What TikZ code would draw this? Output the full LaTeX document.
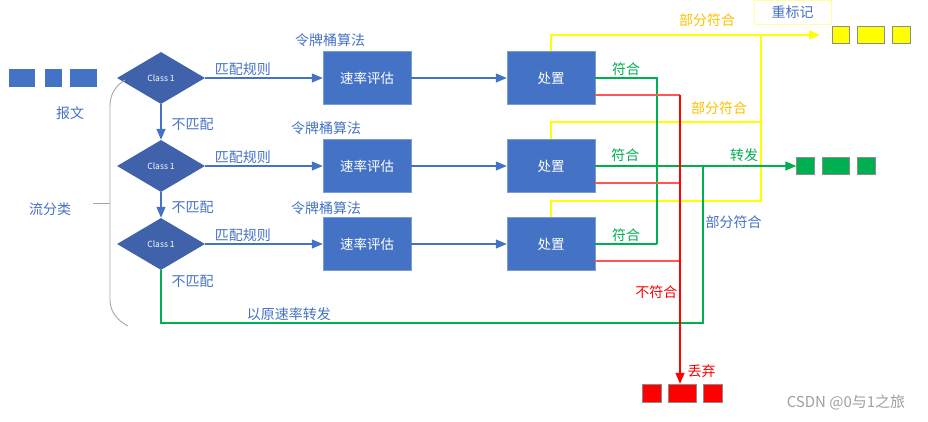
\documentclass[tikz,border=0pt]{standalone}
\usepackage{fontspec}
\setmainfont{Noto Sans CJK SC}
\usepackage{xcolor}
\usepackage{tikz}
\usetikzlibrary{arrows.meta,shapes.geometric}
\definecolor{boxblue}{RGB}{68,114,196}
\definecolor{diamondblue}{RGB}{63,98,171}
\definecolor{passgreen}{RGB}{0,176,80}
\definecolor{markyellow}{RGB}{255,255,0}
\definecolor{paleyellow}{RGB}{255,255,160}
\definecolor{tagorange}{RGB}{255,192,0}
\definecolor{dropred}{RGB}{255,0,0}
\definecolor{lightred}{RGB}{255,85,85}
\definecolor{bracegray}{RGB}{166,166,166}

\begin{document}
\begin{tikzpicture}[x=1pt, y=-1pt,
    class/.style={diamond, fill=diamondblue, minimum width=88pt, minimum height=52pt,
                  inner sep=0pt, text=white, font=\fontsize{8.5}{10}\selectfont},
    box/.style={rectangle, fill=boxblue, draw=boxblue!70!white, minimum width=88pt,
                minimum height=53pt, text=white, font=\fontsize{13.5}{16}\selectfont},
    pkt/.style={rectangle, draw=gray!90, minimum height=17pt, inner sep=0pt},
    lbl/.style={font=\fontsize{14}{16}\selectfont, text=boxblue, inner sep=2pt},
    arrow/.style={-{Triangle[length=11pt,width=9pt]}, line width=1.2pt, color=boxblue},
    okline/.style={line width=1.2pt, color=passgreen},
    redline/.style={line width=1.2pt, color=lightred},
    yelline/.style={line width=1.3pt, color=markyellow}
]
\useasboundingbox (0,0) rectangle (928,421);

\node[pkt, fill=boxblue, draw=none, minimum width=26pt, minimum height=18pt] (msg1) at (22,78) {};
\node[pkt, fill=boxblue, draw=none, minimum width=17pt, minimum height=18pt] (msg2) at (53,78) {};
\node[pkt, fill=boxblue, draw=none, minimum width=27pt, minimum height=18pt] (msg3) at (83.5,78) {};
\node[lbl] (msg) at (70,113) {报文};
\node[lbl] (flow) at (50,209) {流分类};

\node[class] (cls1) at (161,78)  {Class 1};
\node[class] (cls2) at (161,166) {Class 1};
\node[class] (cls3) at (161,244) {Class 1};

\node[box] (rate1) at (367,78)  {速率评估};
\node[box] (rate2) at (367,166) {速率评估};
\node[box] (rate3) at (367,244) {速率评估};
\node[lbl] (tb1) at (330,40)  {令牌桶算法};
\node[lbl] (tb2) at (326,128) {令牌桶算法};
\node[lbl] (tb3) at (326,208) {令牌桶算法};

\node[box] (act1) at (551,78)  {处置};
\node[box] (act2) at (551,166) {处置};
\node[box] (act3) at (551,244) {处置};

\node[draw=paleyellow, text=boxblue, font=\fontsize{14}{16}\selectfont,
      minimum width=77pt, minimum height=24pt] (remark) at (792.5,12) {重标记};
\node[pkt, fill=markyellow, minimum width=17pt] (ypk1) at (840.5,34.5) {};
\node[pkt, fill=markyellow, minimum width=27pt] (ypk2) at (870.5,34.5) {};
\node[pkt, fill=markyellow, minimum width=18pt] (ypk3) at (901,34.5) {};

\node[pkt, fill=passgreen, minimum width=18pt] (gpk1) at (805.5,166) {};
\node[pkt, fill=passgreen, minimum width=27pt] (gpk2) at (835.5,166) {};
\node[pkt, fill=passgreen, minimum width=18pt] (gpk3) at (866,166) {};

\node[pkt, fill=dropred, minimum width=19pt, minimum height=18pt] (rpk1) at (651.5,393) {};
\node[pkt, fill=dropred, minimum width=28pt, minimum height=18pt] (rpk2) at (682,393) {};
\node[pkt, fill=dropred, minimum width=19pt, minimum height=18pt] (rpk3) at (712.5,393) {};

\node[text=gray!75, font=\fontsize{15}{17}\selectfont] (wm) at (846,402) {CSDN @0与1之旅};

\coordinate (yend) at (820,35);
\coordinate (yv2) at (761,122);
\coordinate (yv3) at (761,201);
\coordinate (ytop) at (761,35);
\coordinate (gv1) at (657,78);
\coordinate (gv3) at (657,244);
\coordinate (fwtop) at (703,166);
\coordinate (fwbot) at (703,323);
\coordinate (rv1) at (680,95);
\coordinate (rv2) at (680,183);
\coordinate (rv3) at (680,261);

\draw[bracegray, line width=0.9pt] (125,80) .. controls (115,86) and (110,95) .. (110,106)
    -- (110,300) .. controls (110,312) and (118,321) .. (128,326);
\draw[bracegray, line width=0.9pt] (93,203) -- (110,203);

\draw[arrow] (cls1) -- node[lbl, above, pos=0.32]{匹配规则} (rate1);
\draw[arrow] (cls2) -- node[lbl, above, pos=0.32]{匹配规则} (rate2);
\draw[arrow] (cls3) -- node[lbl, above, pos=0.32]{匹配规则} (rate3);
\draw[arrow] (rate1) -- (act1);
\draw[arrow] (rate2) -- (act2);
\draw[arrow] (rate3) -- (act3);
\draw[arrow] (cls1) -- node[lbl, right, xshift=8pt, yshift=-2pt]{不匹配} (cls2);
\draw[arrow] (cls2) -- node[lbl, right, xshift=8pt, yshift=-2pt]{不匹配} (cls3);

\draw[yelline, -{Triangle[length=11pt,width=9pt]}] (act1) |- node[lbl, above, pos=0.79, yshift=6pt, text=tagorange]{部分符合} (yend);
\draw[yelline] (act2) |- node[lbl, above, pos=0.9, yshift=5pt, text=tagorange]{部分符合} (yv2);
\draw[yelline] (act3) |- (yv3) -- (ytop);

\draw[okline] (act1) -- node[lbl, above, text=passgreen]{符合} (gv1) -- (gv3);
\draw[okline] (act3) -- node[lbl, above, text=passgreen]{符合} (gv3);
\draw[okline, -{Triangle[length=11pt,width=9pt]}] (act2)
    -- node[lbl, above, pos=0.15, yshift=2pt, text=passgreen]{符合}
       node[lbl, above, pos=0.74, yshift=2pt, text=passgreen]{转发} (gpk1);
\draw[okline] (cls3) |- node[lbl, right, xshift=8pt, pos=0.11]{不匹配}
    node[lbl, above, pos=0.618]{以原速率转发} (fwbot)
    -- node[lbl, right, pos=0.64]{部分符合} (fwtop);

\draw[redline] ([yshift=-17pt]act1.east) -- (rv1);
\draw[redline] ([yshift=-17pt]act2.east) -- (rv2);
\draw[redline] ([yshift=-17pt]act3.east) -- (rv3);
\draw[dropred, line width=1.3pt, -{Triangle[length=11pt,width=9pt]}] (rv1)
    -- node[lbl, left, pos=0.683, text=dropred]{不符合}
       node[lbl, right, pos=0.955, xshift=5pt, text=dropred]{丢弃} (rv1 |- rpk2.north);
\end{tikzpicture}
\end{document}
